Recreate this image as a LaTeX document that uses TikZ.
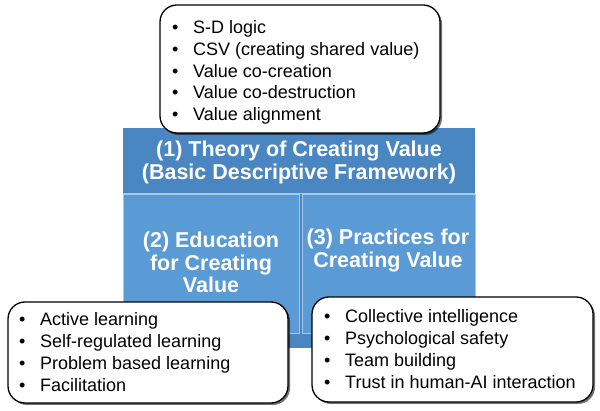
\documentclass[tikz,border=0pt]{standalone}
\usepackage{fontspec}
\setmainfont{Liberation Sans}
\usetikzlibrary{shadows}
\definecolor{hdrblue}{HTML}{4A86C1}
\definecolor{boxblue}{HTML}{5B9BD5}
\definecolor{edgeblue}{HTML}{A8C8E8}
\tikzset{
  bluebase/.style={fill=hdrblue, draw=none},
  bluebox/.style={fill=boxblue, draw=edgeblue, line width=0.8pt},
  listbox/.style={fill=white, draw=black, line width=1.3pt, rounded corners=17pt,
    drop shadow={shadow xshift=2pt, shadow yshift=-2pt, fill=black, opacity=0.55}},
  listtext/.style={anchor=base west, inner sep=0pt, font=\fontsize{18}{21.8}\selectfont},
  titletext/.style={anchor=base, inner sep=0pt, text=white, font=\fontsize{21.5}{22.2}\selectfont\bfseries},
}
\newcommand{\bul}{\makebox[21pt][l]{•}}
\begin{document}
\begin{tikzpicture}[x=1pt,y=-1pt]
\useasboundingbox (0,0) rectangle (600,411);
% blue framework
\path[bluebase] (123,128) rectangle (475,348);
\path[bluebox] (123,194) rectangle (299,333);
\path[bluebox] (302,194) rectangle (475,333);
\draw[edgeblue, line width=0.8pt] (123,193) -- (475,193);
\node[titletext] (t1) at (299,157) {\begin{tabular}[t]{@{}c@{}}(1) Theory of Creating Value\\(Basic Descriptive Framework)\end{tabular}};
\node[titletext] (t2) at (211,248) {\begin{tabular}[t]{@{}c@{}}(2) Education\\for Creating\\Value\end{tabular}};
\node[titletext] (t3) at (388,245) {\begin{tabular}[t]{@{}c@{}}(3) Practices for\\Creating Value\end{tabular}};
% list boxes
\path[listbox] (160,5) rectangle (440,133);
\path[listbox] (8,302) rectangle (288,403);
\path[listbox] (312,297) rectangle (593,402);
\node[listtext] (l1) at (172,33.5) {\begin{tabular}[t]{@{}l@{}}\bul S-D logic\\\bul CSV (creating shared value)\\\bul Value co-creation\\\bul Value co-destruction\\\bul Value alignment\end{tabular}};
\node[listtext] (l2) at (19,326) {\begin{tabular}[t]{@{}l@{}}\bul Active learning\\\bul Self-regulated learning\\\bul Problem based learning\\\bul Facilitation\end{tabular}};
\node[listtext] (l3) at (324,323) {\begin{tabular}[t]{@{}l@{}}\bul Collective intelligence\\\bul Psychological safety\\\bul Team building\\\bul Trust in human-AI interaction\end{tabular}};
\end{tikzpicture}
\end{document}
